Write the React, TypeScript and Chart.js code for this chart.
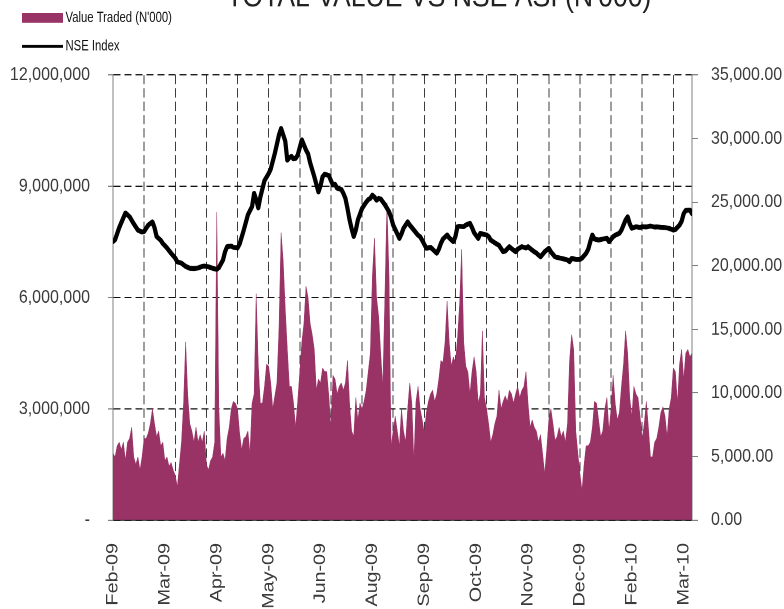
import React, { useEffect, useRef } from "react";
import { Chart, registerables } from "chart.js";

Chart.register(...registerables);

const TITLE = "TOTAL VALUE VS NSE ASI (N'000)";
const LEGEND_VALUE = "Value Traded (N'000)";
const LEGEND_INDEX = "NSE Index";

// x-axis date labels, shown every LABEL_EVERY trading days
const monthLabels = ["Feb-09", "Mar-09", "Apr-09", "May-09", "Jun-09", "Aug-09", "Sep-09", "Oct-09", "Nov-09", "Dec-09", "Feb-10", "Mar-10"];
const LABEL_EVERY = 25;
const GRID_EVERY = 15;

// Daily value traded, in millions of N'000 (one value per trading day)
const valueTradedMillions = [
  1.8, 1.7, 2.0, 2.1, 1.9, 2.1, 1.6, 2.1, 2.2, 2.5,
  1.7, 1.5, 1.7, 1.35, 1.7, 2.2, 2.2, 2.35, 2.6, 3.0,
  2.6, 2.25, 2.4, 2.0, 2.1, 1.6, 1.7, 1.45, 1.55, 1.35,
  1.2, 0.9, 1.5, 2.1, 3.15, 4.8, 3.4, 2.6, 2.4, 2.1,
  2.5, 2.1, 2.3, 2.1, 2.4, 1.5, 1.35, 1.6, 1.7, 2.1,
  8.3, 3.0, 1.7, 1.8, 1.6, 2.2, 2.5, 3.0, 3.2, 3.15,
  3.0, 2.35, 1.9, 2.2, 2.25, 2.4, 1.8, 3.15, 3.4, 6.1,
  4.2, 3.15, 3.15, 3.6, 4.2, 4.15, 3.7, 3.0, 3.35, 3.7,
  5.2, 7.75, 7.0, 5.7, 4.6, 3.6, 3.6, 3.15, 2.5, 3.2,
  4.0, 4.8, 5.3, 6.3, 6.0, 5.3, 5.0, 4.6, 3.5, 3.8,
  3.7, 4.1, 4.0, 4.0, 3.35, 2.5, 3.9, 3.8, 3.4, 3.6,
  3.7, 3.5, 3.7, 4.3, 3.15, 2.4, 2.25, 3.3, 2.7, 3.15,
  3.0, 3.2, 3.5, 4.0, 4.5, 6.6, 7.6, 6.0, 5.5, 4.5,
  3.6, 6.0, 8.55, 6.6, 2.0, 2.4, 2.8, 2.4, 2.0, 3.0,
  2.4, 2.1, 3.0, 3.7, 3.15, 1.6, 3.2, 3.6, 3.0, 2.7,
  2.35, 2.9, 3.2, 3.4, 3.5, 3.2, 3.4, 3.8, 4.3, 4.25,
  4.8, 5.9, 4.8, 4.15, 4.4, 4.25, 4.9, 5.8, 7.3, 4.8,
  4.15, 4.0, 3.4, 4.0, 4.4, 4.0, 3.15, 3.4, 5.1, 3.3,
  3.0, 2.6, 2.1, 2.3, 2.6, 2.8, 3.5, 3.0, 3.2, 3.35,
  3.2, 3.5, 3.4, 3.15, 3.4, 3.6, 3.3, 3.5, 3.6, 4.0,
  3.15, 2.5, 2.7, 2.5, 2.4, 2.1, 2.3, 1.8, 1.25, 1.9,
  2.7, 3.0, 2.6, 2.15, 2.25, 2.5, 2.25, 2.4, 2.1, 2.6,
  4.3, 5.0, 4.6, 2.4, 1.8, 1.25, 0.8, 1.5, 2.0, 2.0,
  2.1, 2.5, 3.2, 3.15, 2.7, 2.25, 2.4, 3.0, 3.3, 2.4,
  3.0, 3.9, 3.15, 2.7, 2.9, 3.6, 4.2, 5.1, 4.5, 3.3,
  2.8, 3.6, 3.4, 3.3, 2.8, 2.2, 2.6, 3.2, 2.5, 1.7,
  1.7, 2.1, 2.2, 2.5, 2.9, 3.05, 2.8, 2.25, 3.0, 3.3,
  4.1, 4.0, 3.15, 4.2, 4.6, 3.8, 4.5, 4.6, 4.4, 4.5,
];

// NSE All-Share Index readings: [trading-day index, index value]
const nseIndexPoints: [number, number][] = [
  [0, 21900], [1, 22050], [3, 23000], [6, 24150], [8, 23850], [10, 23300], [12, 22800], [14, 22650], [15, 22700], [17, 23200],
  [19, 23450], [20, 23000], [21, 22300], [23, 22000], [24, 21750], [26, 21400], [28, 20980], [30, 20600], [31, 20300], [33, 20200],
  [35, 19950], [37, 19800], [39, 19780], [41, 19820], [43, 19950], [44, 19980], [46, 19920], [48, 19800], [50, 19720], [51, 19850],
  [53, 20450], [54, 21100], [55, 21500], [57, 21550], [58, 21450], [60, 21400], [61, 21700], [63, 22800], [65, 24000], [67, 24650],
  [68, 25700], [69, 25200], [70, 24550], [71, 25400], [73, 26700], [75, 27250], [76, 27600], [78, 28850], [80, 30300], [81, 30800],
  [82, 30300], [83, 29800], [84, 28300], [85, 28500], [86, 28600], [87, 28400], [88, 28450], [89, 28700], [91, 29900], [92, 29500],
  [93, 29100], [94, 28800], [95, 28100], [97, 27000], [99, 25800], [100, 26300], [101, 27000], [102, 27200], [104, 27100], [105, 26700],
  [106, 26350], [107, 26400], [108, 26100], [110, 26000], [111, 25700], [112, 25300], [113, 24500], [114, 23600], [115, 22900], [116, 22300],
  [117, 22800], [118, 23600], [120, 24500], [122, 25000], [123, 25200], [124, 25300], [125, 25550], [126, 25400], [127, 25150], [128, 25300],
  [129, 25250], [131, 24800], [133, 24250], [134, 23800], [135, 23200], [137, 22500], [138, 22150], [139, 22500], [140, 22950], [142, 23450],
  [143, 23200], [145, 22800], [147, 22400], [148, 22280], [149, 22000], [151, 21370], [153, 21450], [154, 21300], [156, 20980], [157, 21300],
  [158, 21760], [159, 22100], [161, 22420], [162, 22200], [164, 21890], [165, 22300], [166, 23070], [167, 23100], [169, 23070], [170, 23200],
  [172, 23340], [173, 23000], [174, 22600], [176, 22150], [177, 22550], [178, 22500], [180, 22420], [181, 22300], [182, 22020], [184, 21800],
  [186, 21600], [188, 21100], [189, 21150], [191, 21500], [192, 21350], [194, 21100], [195, 21300], [197, 21500], [199, 21400], [200, 21500],
  [201, 21350], [203, 21100], [204, 21000], [206, 20700], [208, 21100], [210, 21370], [211, 21100], [213, 20700], [214, 20650], [216, 20580],
  [218, 20500], [219, 20450], [220, 20320], [221, 20580], [223, 20500], [225, 20500], [226, 20600], [228, 20980], [229, 21300], [230, 21900],
  [231, 22420], [232, 22100], [234, 22020], [236, 22100], [238, 22160], [239, 21890], [241, 22280], [242, 22400], [244, 22550], [245, 22800],
  [246, 23200], [247, 23600], [248, 23850], [249, 23300], [250, 22950], [251, 23000], [252, 23070], [254, 23000], [255, 23070], [257, 23050],
  [259, 23120], [261, 23040], [262, 23060], [264, 23020], [266, 23000], [268, 22940], [270, 22810], [271, 22850], [273, 23200], [274, 23500],
  [275, 24100], [276, 24350], [278, 24380], [279, 24100],
];

const LEFT_MAX = 12000000;
const LEFT_STEP = 3000000;
const RIGHT_MAX = 35000;
const RIGHT_STEP = 5000;

const AREA_COLOR = "#993366";
const FONT = "'Liberation Sans', Arial, sans-serif";

// canvas is drawn at 784 x 525 and displayed stretched to 784 x 609
const W = 784;
const H = 525;

const overlayPlugin = {
  id: "overlay",
  afterDraw(chart: any) {
    const ctx = chart.ctx as CanvasRenderingContext2D;
    ctx.save();
    ctx.fillStyle = "#222";
    ctx.font = `26.6px ${FONT}`;
    ctx.textAlign = "center";
    ctx.textBaseline = "alphabetic";
    ctx.fillText(TITLE, 439, 5.4);

    ctx.fillStyle = AREA_COLOR;
    ctx.fillRect(22, 11, 41, 8.6);
    ctx.strokeStyle = "#000";
    ctx.lineWidth = 2.6;
    ctx.beginPath();
    ctx.moveTo(22, 40);
    ctx.lineTo(63, 40);
    ctx.stroke();

    ctx.fillStyle = "#111";
    ctx.font = `11.3px ${FONT}`;
    ctx.textAlign = "left";
    ctx.textBaseline = "middle";
    const draw = (t: string, x: number, y: number) => {
      ctx.save();
      ctx.translate(x, y);
      ctx.scale(1, 1.15);
      ctx.fillText(t, 0, 0);
      ctx.restore();
    };
    draw(LEGEND_VALUE, 65.5, 15.3);
    draw(LEGEND_INDEX, 65.5, 40);
    ctx.restore();
  },
};

export default function App() {
  const ref = useRef<HTMLCanvasElement | null>(null);

  useEffect(() => {
    if (!ref.current) return;
    const n = valueTradedMillions.length;
    const areaData = valueTradedMillions.map((v, i) => ({ x: i, y: v * 1000000 }));
    const lineData = nseIndexPoints.map(([d, v]) => ({ x: d, y: v }));

    const tickValues: number[] = [];
    for (let v = 0; v < n; v += 1) {
      if (v % LABEL_EVERY === 0 || (v % GRID_EVERY === 0 && v > 0)) tickValues.push(v);
    }

    const chart = new Chart(ref.current, {
      type: "line",
      data: {
        datasets: [
          {
            label: LEGEND_INDEX,
            data: lineData,
            yAxisID: "y1",
            borderColor: "#000",
            borderWidth: 4.2,
            pointRadius: 0,
            tension: 0,
            fill: false,
            order: 1,
            borderJoinStyle: "round",
            borderCapStyle: "round",
          },
          {
            label: LEGEND_VALUE,
            data: areaData,
            yAxisID: "y",
            borderColor: AREA_COLOR,
            borderWidth: 0.5,
            backgroundColor: AREA_COLOR,
            pointRadius: 0,
            tension: 0,
            fill: "origin",
            order: 2,
          },
        ],
      },
      options: {
        responsive: false,
        maintainAspectRatio: false,
        animation: false,
        devicePixelRatio: 2,
        layout: { padding: { top: 64.66, left: 0, right: 0, bottom: 0 } },
        plugins: {
          legend: { display: false },
          tooltip: { enabled: false },
          title: { display: false },
        },
        scales: {
          x: {
            type: "linear",
            min: 0,
            max: n - 1,
            afterBuildTicks: (axis: any) => {
              axis.ticks = tickValues.map((v) => ({ value: v }));
            },
            afterFit: (axis: any) => {
              axis.height = H - 448.28;
            },
            ticks: {
              autoSkip: false,
              maxRotation: 90,
              minRotation: 90,
              padding: 19.8,
              color: "#3a3a3a",
              font: { family: FONT, size: 17 },
              callback: (value: any) => {
                const v = Number(value);
                if (v % LABEL_EVERY === 0) {
                  const k = v / LABEL_EVERY;
                  return k < monthLabels.length ? monthLabels[k] : "";
                }
                return "";
              },
            },
            grid: {
              drawTicks: false,
              color: (c: any) => {
                const v = c.tick ? c.tick.value : 0;
                return v > 0 && v % GRID_EVERY === 0 ? "#3c3c3c" : "rgba(0,0,0,0)";
              },
              lineWidth: 1,
            },
            border: { display: true, color: "#222", width: 1.4, dash: [8, 3.5] },
          },
          y: {
            position: "left",
            min: 0,
            max: LEFT_MAX,
            afterFit: (axis: any) => {
              axis.width = 113;
            },
            ticks: {
              stepSize: LEFT_STEP,
              padding: 18,
              color: "#3a3a3a",
              font: { family: FONT, size: 16 },
              callback: (value: any) => {
                const v = Number(value);
                return v === 0 ? "-" : v.toLocaleString("en-US");
              },
            },
            grid: {
              color: "#111",
              lineWidth: 1,
              tickLength: 5,
              tickColor: "#808080",
            },
            border: { display: true, color: "#808080", width: 1, dash: [7, 4] },
          },
          y1: {
            position: "right",
            min: 0,
            max: RIGHT_MAX,
            afterFit: (axis: any) => {
              axis.width = W - 692;
            },
            ticks: {
              stepSize: RIGHT_STEP,
              padding: 13,
              color: "#3a3a3a",
              font: { family: FONT, size: 16 },
              callback: (value: any) =>
                Number(value).toLocaleString("en-US", { minimumFractionDigits: 2, maximumFractionDigits: 2 }),
            },
            grid: {
              drawOnChartArea: false,
              tickLength: 6,
              tickColor: "#808080",
            },
            border: { display: true, color: "#808080", width: 1 },
          },
        },
      },
      plugins: [overlayPlugin],
    } as any);

    return () => chart.destroy();
  }, []);

  return (
    <div style={{ position: "absolute", left: 0, top: 0, width: W, height: 609, overflow: "hidden", background: "#fff" }}>
      <canvas ref={ref} width={W} height={H} style={{ width: `${W}px`, height: "609px", display: "block" }} />
    </div>
  );
}
